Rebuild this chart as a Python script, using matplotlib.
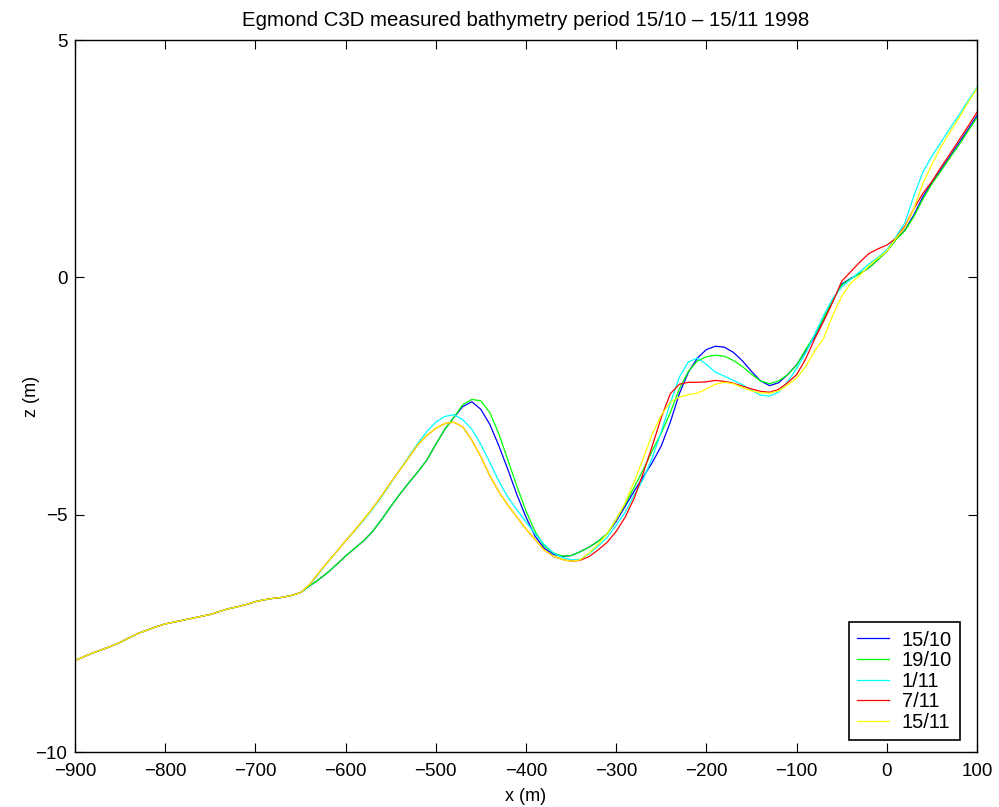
import numpy as np
import matplotlib
matplotlib.use('Agg')
import matplotlib.pyplot as plt

plt.rcParams['font.family'] = ['Liberation Sans', 'DejaVu Sans']

# cross-shore position (m)
x_off = [-900, -890, -880, -870, -860, -850, -840, -830, -820, -810, -800,
         -790, -780, -770, -760, -750, -740, -730, -720, -710, -700,
         -690, -680, -670, -660, -650]
x_near = list(range(-640, 101, 10))

# offshore part, identical in every survey
z_off = [-8.07, -7.99, -7.91, -7.84, -7.77, -7.69, -7.59, -7.50, -7.43, -7.36, -7.30,
         -7.26, -7.22, -7.18, -7.14, -7.10, -7.04, -6.98, -6.94, -6.89, -6.83,
         -6.79, -6.76, -6.74, -6.70, -6.64]

z_1510 = [-6.50, -6.37, -6.22, -6.05, -5.87, -5.71, -5.55, -5.35, -5.10, -4.83,
          -4.57, -4.33, -4.10, -3.85, -3.52, -3.20, -2.95, -2.72, -2.62, -2.78,
          -3.10, -3.55, -4.05, -4.58, -5.05, -5.45, -5.70, -5.83, -5.88, -5.86,
          -5.78, -5.68, -5.56, -5.40, -5.14, -4.82, -4.50, -4.20, -3.90, -3.55,
          -3.05, -2.45, -2.00, -1.70, -1.52, -1.45, -1.47, -1.58, -1.76, -1.98,
          -2.18, -2.28, -2.22, -2.05, -1.84, -1.55, -1.25, -0.90, -0.50, -0.14,
          -0.02, 0.08, 0.20, 0.37, 0.55, 0.80, 1.00, 1.32, 1.70, 2.00,
          2.27, 2.55, 2.83, 3.12, 3.41]

z_1910 = [-6.50, -6.37, -6.22, -6.05, -5.87, -5.71, -5.55, -5.35, -5.10, -4.83,
          -4.57, -4.33, -4.10, -3.85, -3.52, -3.20, -2.95, -2.68, -2.57, -2.60,
          -2.85, -3.30, -3.85, -4.40, -4.92, -5.35, -5.65, -5.80, -5.87, -5.86,
          -5.78, -5.68, -5.56, -5.40, -5.10, -4.77, -4.42, -4.05, -3.65, -3.28,
          -2.85, -2.35, -1.98, -1.76, -1.67, -1.64, -1.66, -1.75, -1.88, -2.04,
          -2.18, -2.24, -2.18, -2.05, -1.85, -1.52, -1.22, -0.86, -0.48, -0.16,
          -0.03, 0.08, 0.20, 0.37, 0.55, 0.79, 0.98, 1.28, 1.65, 1.97,
          2.24, 2.52, 2.79, 3.08, 3.37]

z_0111 = [-6.48, -6.25, -6.00, -5.78, -5.55, -5.34, -5.12, -4.88, -4.62, -4.34,
          -4.05, -3.78, -3.50, -3.25, -3.05, -2.93, -2.89, -3.00, -3.20, -3.52,
          -3.90, -4.30, -4.63, -4.90, -5.15, -5.40, -5.62, -5.80, -5.90, -5.95,
          -5.94, -5.82, -5.66, -5.48, -5.22, -4.95, -4.58, -4.25, -3.80, -3.25,
          -2.65, -2.10, -1.78, -1.70, -1.83, -2.00, -2.08, -2.17, -2.26, -2.38,
          -2.48, -2.50, -2.42, -2.20, -1.92, -1.60, -1.20, -0.80, -0.45, -0.20,
          -0.04, 0.12, 0.28, 0.42, 0.58, 0.85, 1.15, 1.72, 2.22, 2.55,
          2.85, 3.14, 3.42, 3.72, 4.00]

z_0711 = [-6.47, -6.23, -6.00, -5.78, -5.55, -5.33, -5.10, -4.86, -4.60, -4.32,
          -4.06, -3.80, -3.53, -3.33, -3.18, -3.08, -3.05, -3.15, -3.43, -3.78,
          -4.18, -4.52, -4.80, -5.05, -5.30, -5.52, -5.74, -5.87, -5.94, -5.98,
          -5.96, -5.88, -5.74, -5.58, -5.35, -5.05, -4.65, -4.12, -3.55, -2.95,
          -2.45, -2.25, -2.21, -2.21, -2.20, -2.17, -2.19, -2.23, -2.29, -2.35,
          -2.40, -2.42, -2.36, -2.22, -2.05, -1.72, -1.30, -0.92, -0.52, -0.08,
          0.12, 0.32, 0.50, 0.60, 0.68, 0.82, 1.08, 1.45, 1.77, 2.02,
          2.32, 2.60, 2.89, 3.18, 3.48]

z_1511 = [-6.47, -6.23, -6.00, -5.78, -5.55, -5.33, -5.10, -4.86, -4.60, -4.32,
          -4.06, -3.80, -3.53, -3.33, -3.18, -3.08, -3.05, -3.15, -3.43, -3.78,
          -4.18, -4.52, -4.80, -5.05, -5.30, -5.52, -5.74, -5.87, -5.94, -5.98,
          -5.95, -5.80, -5.62, -5.40, -5.10, -4.75, -4.30, -3.82, -3.30, -2.90,
          -2.63, -2.52, -2.47, -2.44, -2.35, -2.25, -2.21, -2.24, -2.32, -2.39,
          -2.43, -2.44, -2.39, -2.27, -2.12, -1.88, -1.55, -1.28, -0.80, -0.40,
          -0.12, 0.04, 0.24, 0.40, 0.55, 0.82, 1.05, 1.45, 1.98, 2.38,
          2.75, 3.06, 3.36, 3.68, 3.98]

surveys = ['15/10', '19/10', '1/11', '7/11', '15/11']
profiles = [z_1510, z_1910, z_0111, z_0711, z_1511]
colors = ['#0000ff', '#00ff00', '#00ffff', '#ff0000', '#ffff00']

fig = plt.figure(figsize=(9.99, 8.07), dpi=100)
ax = fig.add_axes([0.075, 0.068, 0.903, 0.8824])

x_all = np.array(x_off + x_near)
for name, z, c in zip(surveys, profiles, colors):
    ax.plot(x_all, z_off + z, color=c, linewidth=0.9, label=name)

ax.set_xlim(-900, 100)
ax.set_ylim(-10, 5)
ax.set_xticks(range(-900, 101, 100))
ax.set_yticks([-10, -5, 0, 5])
ax.tick_params(direction='in', length=6.5, width=0.8, labelsize=13.5,
               top=True, right=True)
ax.tick_params(axis='x', pad=8)
ax.tick_params(axis='y', pad=5.5)
for s in ax.spines.values():
    s.set_linewidth(1.0)

ax.set_xlabel('x (m)', fontsize=13)
ax.xaxis.set_label_coords(0.5, -0.05)
ax.set_ylabel('z (m)', fontsize=13)
ax.yaxis.set_label_coords(-0.039, 0.5)
ax.set_title('Egmond C3D measured bathymetry period 15/10 \u2013 15/11 1998',
             fontsize=14.7, pad=10)

leg = ax.legend(loc='lower right', bbox_to_anchor=(0.981, 0.017), borderaxespad=0,
                fontsize=14.5, handlelength=1.6, handletextpad=0.6,
                labelspacing=0.08, borderpad=0.4, fancybox=False,
                framealpha=1, edgecolor='black')
leg.get_frame().set_linewidth(1.2)

plt.savefig('out.png', dpi=100)
